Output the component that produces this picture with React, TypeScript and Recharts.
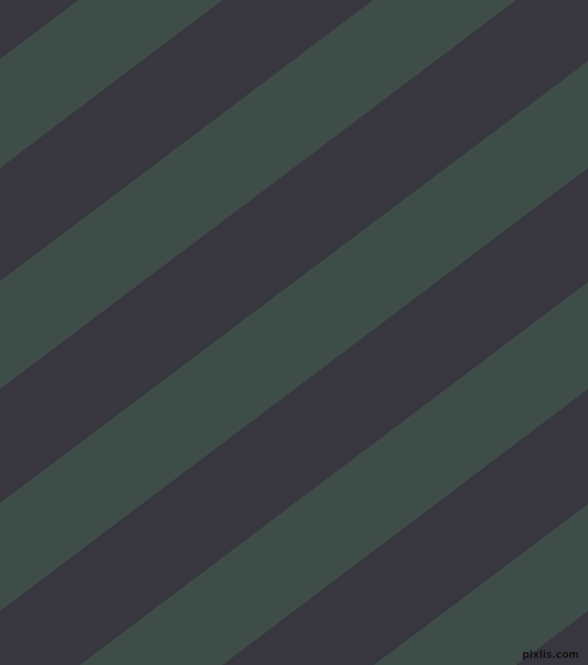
import { ComposedChart, Area, XAxis, YAxis } from "recharts";

// stripe boundaries read at the left (x=0) and right (x=588) edges, in px from the top
const edgeX = [0, 588];
const greenTopAtLeft = [59, 281, 503, 725, 946];
const greenBottomAtLeft = [168, 389, 611, 833, 1054];
const greenTopAtRight = [-384, -162, 61, 282, 504];
const greenBottomAtRight = [-276, -54, 168, 389, 611];

const DARK = "#38363f";
const GREEN = "#3f4d49";

const rows = edgeX.map((x, j) => {
  const row: Record<string, number | number[]> = { x };
  greenTopAtLeft.forEach((_, i) => {
    row[`g${i}`] =
      j === 0
        ? [greenTopAtLeft[i], greenBottomAtLeft[i]]
        : [greenTopAtRight[i], greenBottomAtRight[i]];
  });
  return row;
});

export default function App() {
  return (
    <div style={{ position: "fixed", left: 0, top: 0, width: 588, height: 665 }}>
      <ComposedChart
        width={588}
        height={665}
        data={rows}
        margin={{ top: 0, right: 0, bottom: 0, left: 0 }}
        style={{ background: DARK }}
      >
        <XAxis type="number" dataKey="x" domain={[0, 588]} hide allowDataOverflow />
        <YAxis type="number" domain={[0, 665]} reversed hide allowDataOverflow />
        {greenTopAtLeft.map((_, i) => (
          <Area
            key={i}
            type="linear"
            dataKey={`g${i}`}
            stroke="none"
            fill={GREEN}
            fillOpacity={1}
            dot={false}
            activeDot={false}
            isAnimationActive={false}
          />
        ))}
      </ComposedChart>
      <span
        style={{
          position: "absolute",
          right: 9,
          bottom: 5,
          fontFamily: "DejaVu Sans",
          fontWeight: "bold",
          fontSize: 10,
          color: "#111",
          textShadow: "0 0 1px #555",
          lineHeight: 1,
        }}
      >
        pixlis.com
      </span>
    </div>
  );
}
